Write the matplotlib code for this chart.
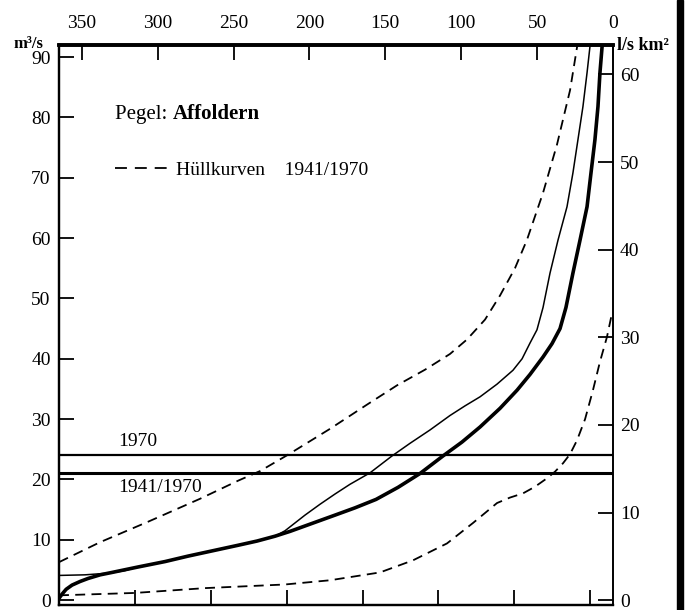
import matplotlib
matplotlib.use('Agg')
import matplotlib.pyplot as plt
from matplotlib.lines import Line2D
from matplotlib.patches import Rectangle

plt.rcParams['font.family'] = ['Liberation Serif', 'DejaVu Serif']

# Dauerlinien Pegel Affoldern: Tage (von rechts gezaehlt) / Abfluss in m3/s
mean_days = [365, 363, 360.3, 356.4, 351.1, 345.8, 337.9, 330.0, 312.9, 295.1, 280.0, 263.5, 247.0,
             234.5, 222.7, 212.8, 202.9, 193.0, 183.1, 170.0, 156.1, 141.6, 127.1, 112.0, 99.5,
             87.6, 74.4, 63.2, 54.7, 46.1, 40.2, 34.9, 31.0, 26.4, 21.7, 17.1, 14.5, 11.9, 9.9,
             8.6, 7.2, 6.3]
mean_q = [0.3, 1.0, 1.8, 2.5, 3.1, 3.6, 4.2, 4.6, 5.5, 6.4, 7.3, 8.2, 9.1,
          9.8, 10.6, 11.4, 12.3, 13.2, 14.1, 15.3, 16.7, 18.7, 21.0, 23.9, 26.2,
          28.7, 31.8, 34.8, 37.4, 40.3, 42.5, 45.0, 48.5, 54.2, 59.7, 65.2, 70.8, 76.3, 81.8,
          87.4, 91.7, 94.0]

y1970_days = [365, 347.8, 331.4, 321.5, 312.9, 295.1, 280.0, 263.5, 247.0, 234.5, 222.7, 216.1,
              209.5, 202.9, 193.0, 183.1, 173.3, 160.1, 145.6, 133.7, 120.6, 107.4, 97.5, 87.6,
              76.4, 65.9, 59.9, 54.7, 50.1, 46.1, 41.5, 36.2, 30.3, 26.4, 23.1, 19.8, 17.1, 15.2,
              14.2]
y1970_q = [4.1, 4.2, 4.5, 4.9, 5.5, 6.4, 7.3, 8.2, 9.1, 9.8, 10.6, 11.5,
           12.8, 14.1, 15.9, 17.6, 19.2, 21.1, 23.9, 26.0, 28.2, 30.6, 32.2, 33.7,
           35.8, 38.1, 40.0, 42.6, 44.8, 48.5, 54.2, 59.7, 65.2, 70.8, 76.3, 81.8, 87.4, 91.7,
           94.0]

upper_days = [365, 338.0, 306.3, 272.1, 247.0, 232.5, 214.8, 186.4, 162.1, 142.3, 123.8, 107.4,
              96.2, 84.3, 74.4, 64.6, 56.7, 46.1, 36.9, 28.3, 22.5]
upper_q = [6.3, 9.6, 13.0, 16.8, 19.8, 21.4, 24.0, 28.4, 32.4, 35.6, 38.2, 40.8,
           43.2, 46.5, 50.5, 55.0, 59.7, 67.5, 75.5, 84.5, 93.5]

lower_days = [365, 314.9, 268.6, 216.1, 186.4, 153.5, 131.8, 109.4, 92.2, 76.4, 67.9, 59.3,
              51.4, 43.5, 38.2, 32.9, 28.3, 23.7, 18.4, 13.2, 8.6, 4.0, 0.7]
lower_q = [0.8, 1.2, 2.0, 2.6, 3.3, 4.6, 6.6, 9.4, 12.8, 16.1, 17.0, 17.7,
           18.8, 20.2, 21.3, 22.7, 24.2, 26.5, 30.0, 34.8, 39.5, 43.6, 47.5]

mq_1970 = 24.0
mq_1941_1970 = 21.1
area_km2 = 1452

top_ticks = [350, 300, 250, 200, 150, 100, 50, 0]
bottom_ticks = [315, 265, 215, 165, 115, 65, 15]
left_ticks = [0, 10, 20, 30, 40, 50, 60, 70, 80, 90]
right_ticks = [0, 10, 20, 30, 40, 50, 60]

q_min, q_max = -0.8, 92.0

fig = plt.figure(figsize=(6.85, 6.10), dpi=100)
ax = fig.add_axes([59 / 685, 5 / 610, 554 / 685, 560 / 610])

dash = (0, (5.5, 3.5))
ax.plot(upper_days, upper_q, color='black', lw=1.3, linestyle=dash)
ax.plot(lower_days, lower_q, color='black', lw=1.3, linestyle=dash)
ax.plot(y1970_days, y1970_q, color='black', lw=1.1)
ax.plot(mean_days, mean_q, color='black', lw=2.6, solid_capstyle='butt')
ax.axhline(mq_1970, color='black', lw=1.6)
ax.axhline(mq_1941_1970, color='black', lw=2.2)

ax.set_xlim(365, 0)
ax.set_ylim(q_min, q_max)

ax.xaxis.tick_top()
ax.set_xticks(top_ticks)
ax.set_xticklabels([str(t) for t in top_ticks])
ax.tick_params(axis='x', direction='in', length=11, width=1.3, labelsize=14, pad=9)
ax.set_xticks(bottom_ticks, minor=True)
ax.tick_params(axis='x', which='minor', direction='in', length=11, width=1.3,
               bottom=True, top=False)

ax.set_yticks(left_ticks)
ax.tick_params(axis='y', direction='in', length=10.5, width=1.3, labelsize=14, pad=6)

ax2 = ax.twinx()
ax2.set_ylim(q_min * 1000 / area_km2, q_max * 1000 / area_km2)
ax2.set_yticks(right_ticks)
ax2.tick_params(axis='y', direction='in', length=11, width=1.3, labelsize=14, pad=5)

for a in (ax, ax2):
    a.spines['top'].set_linewidth(2.6)
    a.spines['left'].set_linewidth(1.6)
    a.spines['right'].set_linewidth(1.2)
    a.spines['bottom'].set_linewidth(1.6)

t = ax.text(0.101, 0.876, 'Pegel: ', transform=ax.transAxes, fontsize=15,
            ha='left', va='center')
ax.annotate('Affoldern', xy=(1, 0), xycoords=t, va='bottom', ha='left',
            fontsize=15, fontweight='bold')

handle = Line2D([], [], color='black', lw=1.3, linestyle=(0, (6.6, 4.4)))
ax.legend([handle], ['Hüllkurven    1941/1970'], loc='center left',
          bbox_to_anchor=(0.101, 0.777), frameon=False, fontsize=14,
          handlelength=2.7, handletextpad=0.45, borderpad=0, borderaxespad=0)

ax.text(326, mq_1970 + 0.9, '1970', fontsize=14, ha='left', va='bottom')
ax.text(326, mq_1941_1970 - 1.0, '1941/1970', fontsize=14, ha='left', va='top')

fig.text(14 / 685, 1 - 44 / 610, 'm³/s', fontsize=12, fontweight='bold',
         ha='left', va='center')
fig.text(617 / 685, 1 - 45 / 610, 'l/s km²', fontsize=13, fontweight='bold',
         ha='left', va='center')

fig.patches.append(Rectangle((677 / 685, 0), 6 / 685, 1, transform=fig.transFigure,
                             color='black', zorder=5))

fig.savefig('out.png', dpi=100)
